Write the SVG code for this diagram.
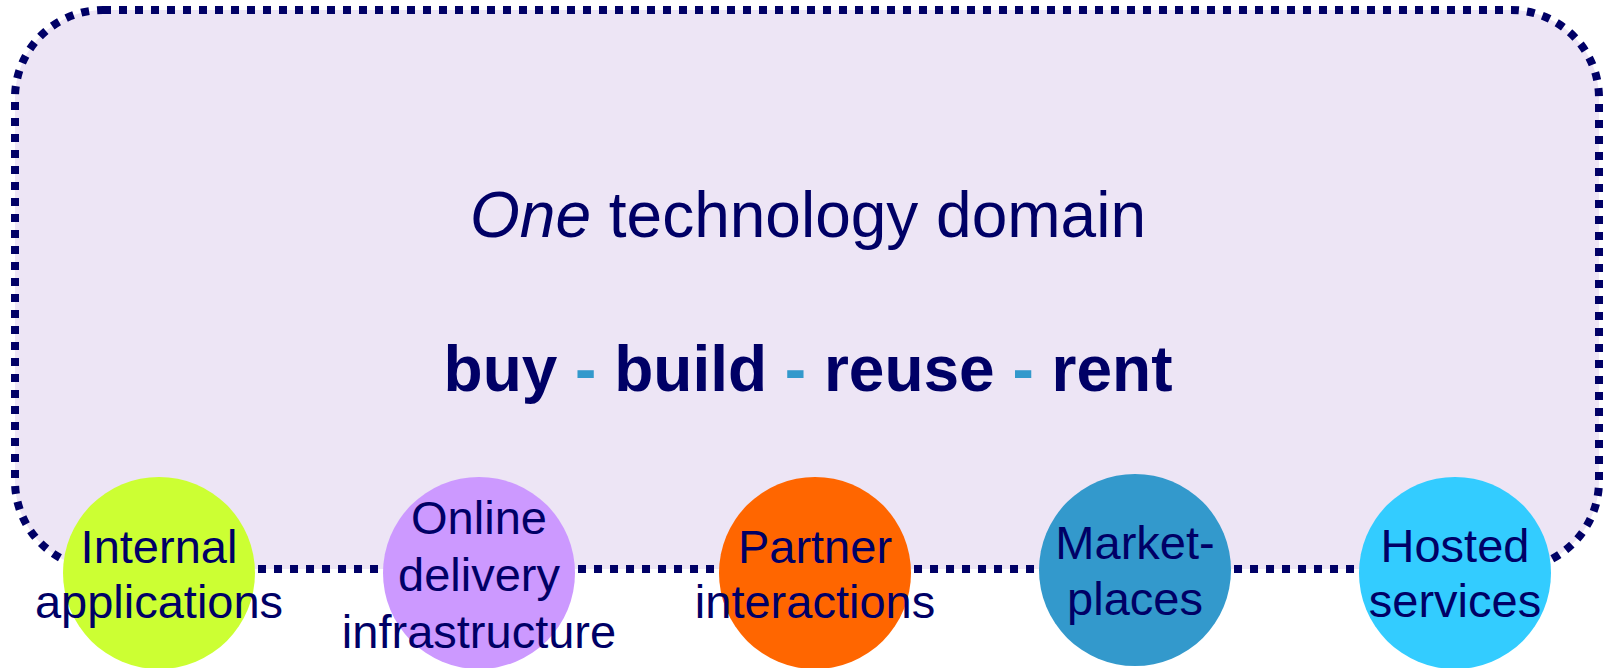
<svg xmlns="http://www.w3.org/2000/svg" width="1604" height="668" viewBox="0 0 1604 668">
  <style>
    .lbl { font-family: "Liberation Sans", Arial, sans-serif; font-size: 47px; fill: #000066; text-anchor: middle; }
    .big { font-family: "Liberation Sans", Arial, sans-serif; font-size: 64px; fill: #000066; text-anchor: middle; }
    .dash { fill: #3399CC; }
  </style>
  <rect width="1604" height="668" fill="#FFFFFF"/>
  <g id="domain">
    <rect x="15" y="10" width="1584" height="559" rx="88" ry="88" fill="#EDE5F5" stroke="#000066" stroke-width="8" stroke-dasharray="8 8"/>
    <text class="big" x="808" y="237"><tspan font-style="italic">One</tspan> technology domain</text>
    <text class="big" x="808" y="391" font-weight="bold">buy <tspan class="dash">-</tspan> build <tspan class="dash">-</tspan> reuse <tspan class="dash">-</tspan> rent</text>
  </g>
  <g id="connectors"></g>
  <g id="internal">
    <circle cx="159" cy="573" r="96" fill="#CCFF33"/>
    <text class="lbl" x="159" y="563">Internal</text>
    <text class="lbl" x="159" y="618">applications</text>
  </g>
  <g id="online">
    <circle cx="479" cy="573" r="96" fill="#CC99FF"/>
    <text class="lbl" x="479" y="534">Online</text>
    <text class="lbl" x="479" y="591">delivery</text>
    <text class="lbl" x="479" y="648">infrastructure</text>
  </g>
  <g id="partner">
    <circle cx="815" cy="573" r="96" fill="#FF6600"/>
    <text class="lbl" x="815" y="563">Partner</text>
    <text class="lbl" x="815" y="618">interactions</text>
  </g>
  <g id="market">
    <circle cx="1135" cy="570" r="96" fill="#3399CC"/>
    <text class="lbl" x="1135" y="559">Market-</text>
    <text class="lbl" x="1135" y="615">places</text>
  </g>
  <g id="hosted">
    <circle cx="1455" cy="573" r="96" fill="#33CCFF"/>
    <text class="lbl" x="1455" y="562">Hosted</text>
    <text class="lbl" x="1455" y="617">services</text>
  </g>
</svg>
